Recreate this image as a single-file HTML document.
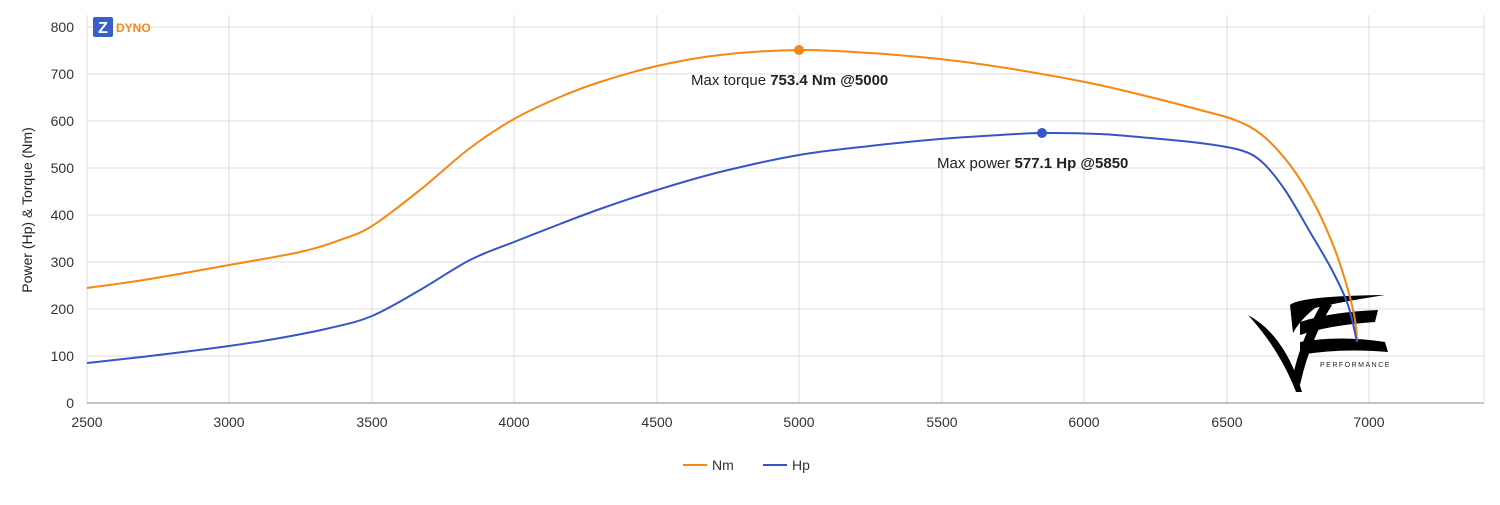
<!DOCTYPE html>
<html><head><meta charset="utf-8"><style>
body{margin:0;background:#fff;width:1500px;height:500px;overflow:hidden;font-family:"Liberation Sans",sans-serif}
</style></head><body>
<svg width="1500" height="500" xmlns="http://www.w3.org/2000/svg" font-family="Liberation Sans, sans-serif">
<g stroke="#dcdcdc" stroke-width="1">
<line x1="87" y1="27" x2="1484" y2="27"/><line x1="87" y1="74" x2="1484" y2="74"/><line x1="87" y1="121" x2="1484" y2="121"/><line x1="87" y1="168" x2="1484" y2="168"/><line x1="87" y1="215" x2="1484" y2="215"/><line x1="87" y1="262" x2="1484" y2="262"/><line x1="87" y1="309" x2="1484" y2="309"/><line x1="87" y1="356" x2="1484" y2="356"/>
<line x1="87" y1="15" x2="87" y2="403"/><line x1="229" y1="15" x2="229" y2="403"/><line x1="372" y1="15" x2="372" y2="403"/><line x1="514" y1="15" x2="514" y2="403"/><line x1="657" y1="15" x2="657" y2="403"/><line x1="799" y1="15" x2="799" y2="403"/><line x1="942" y1="15" x2="942" y2="403"/><line x1="1084" y1="15" x2="1084" y2="403"/><line x1="1227" y1="15" x2="1227" y2="403"/><line x1="1369" y1="15" x2="1369" y2="403"/><line x1="1484" y1="15" x2="1484" y2="403"/>
</g>
<line x1="87" y1="403" x2="1484" y2="403" stroke="#888"/>
<g font-size="14" fill="#333" text-anchor="end">
<text x="74" y="32">800</text><text x="74" y="79">700</text><text x="74" y="126">600</text><text x="74" y="173">500</text><text x="74" y="220">400</text><text x="74" y="267">300</text><text x="74" y="314">200</text><text x="74" y="361">100</text><text x="74" y="408">0</text>
</g>
<g font-size="14" fill="#333" text-anchor="middle">
<text x="87" y="427">2500</text><text x="229" y="427">3000</text><text x="372" y="427">3500</text><text x="514" y="427">4000</text><text x="657" y="427">4500</text><text x="799" y="427">5000</text><text x="942" y="427">5500</text><text x="1084" y="427">6000</text><text x="1227" y="427">6500</text><text x="1369" y="427">7000</text>
</g>
<text transform="translate(32,210) rotate(-90)" font-size="14" fill="#222" text-anchor="middle">Power (Hp) &amp; Torque (Nm)</text>
<rect x="93" y="17" width="20" height="20" rx="2" fill="#3a5fc8"/><text x="103" y="33" font-size="16" font-weight="bold" fill="#fff" text-anchor="middle">Z</text>
<text x="116" y="32" font-size="12" font-weight="bold" fill="#f08a1c">DYNO</text>
<g fill="#000">
<path d="M1248,315 Q1285,335 1302,392 L1296,392 Q1280,350 1248,315 Z"/>
<path d="M1290,305 Q1300,296 1385,295 Q1340,302 1315,308 Q1300,320 1293,333 Z"/>
<path d="M1300,322 Q1330,312 1378,310 L1375,322 Q1330,325 1300,335 Z"/>
<path d="M1300,342 Q1340,335 1385,342 L1388,352 Q1340,348 1300,355 Z"/>
<path d="M1332,305 Q1310,340 1300,385 L1292,380 Q1300,340 1322,303 Z"/>
</g>
<text x="1320" y="367" font-size="7" fill="#222" letter-spacing="1.5">PERFORMANCE</text>
<path id="nm" fill="none" stroke="#f7870f" stroke-width="2"/>
<path id="hp" fill="none" stroke="#3656c8" stroke-width="2"/>
<circle cx="799" cy="50" r="5" fill="#f7870f"/><circle cx="1042" cy="133" r="5" fill="#3656c8"/>
<text x="691" y="85" font-size="15" fill="#222">Max torque <tspan font-weight="bold">753.4 Nm @5000</tspan></text>
<text x="937" y="168" font-size="15" fill="#222">Max power <tspan font-weight="bold">577.1 Hp @5850</tspan></text>
<line x1="683" y1="465" x2="707" y2="465" stroke="#f7870f" stroke-width="2"/><text x="712" y="470" font-size="14" fill="#333">Nm</text>
<line x1="763" y1="465" x2="787" y2="465" stroke="#3656c8" stroke-width="2"/><text x="792" y="470" font-size="14" fill="#333">Hp</text>
</svg>
<script>
function cr(p){var d="M"+p[0][0]+","+p[0][1];for(var i=0;i<p.length-1;i++){var a=p[i-1]||p[i],b=p[i],c=p[i+1],e=p[i+2]||c;
d+=" C"+(b[0]+(c[0]-a[0])/6)+","+(b[1]+(c[1]-a[1])/6)+" "+(c[0]-(e[0]-b[0])/6)+","+(c[1]-(e[1]-b[1])/6)+" "+c[0]+","+c[1];}return d;}
var nm=[[87,288],[150,279],[229,265],[300,252],[340,240],[372,226],[420,190],[470,148],[514,119],[560,97],[600,82],[657,66],[720,55],[799,50],[870,53],[940,59],[1000,67],[1085,82],[1150,97],[1200,110],[1235,120],[1262,135],[1290,165],[1315,205],[1335,250],[1348,290],[1355,320],[1357,342]];
var hp=[[87,363],[150,356],[229,346],[280,338],[330,328],[372,316],[420,290],[470,260],[514,242],[560,224],[600,209],[657,190],[720,172],[799,155],[870,146],[940,139],[1000,135],[1042,133],[1100,134],[1150,138],[1200,143],[1240,150],[1262,162],[1285,190],[1310,232],[1332,270],[1348,305],[1357,342]];
document.getElementById("nm").setAttribute("d",cr(nm));
document.getElementById("hp").setAttribute("d",cr(hp));
</script>
</body></html>
